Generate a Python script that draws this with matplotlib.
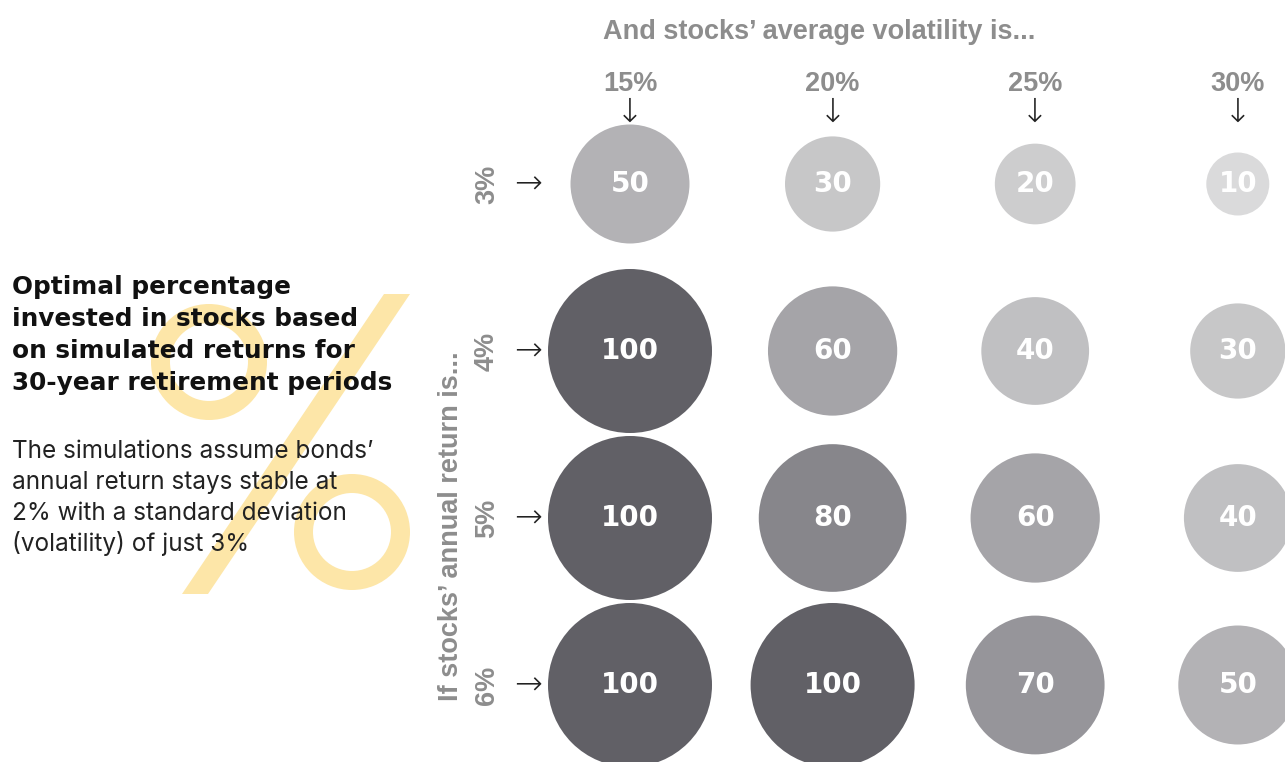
import numpy as np
import matplotlib
matplotlib.use("Agg")
import matplotlib.pyplot as plt
from matplotlib.colors import LinearSegmentedColormap, Normalize
from matplotlib.patches import Annulus, Polygon
from matplotlib.transforms import blended_transform_factory

# ---------------- data ----------------
volatility_labels = ["15%", "20%", "25%", "30%"]
return_labels = ["3%", "4%", "5%", "6%"]
pct_return_3 = [50, 30, 20, 10]
pct_return_4 = [100, 60, 40, 30]
pct_return_5 = [100, 80, 60, 40]
pct_return_6 = [100, 100, 70, 50]

title_lines = ["Optimal percentage", "invested in stocks based",
               "on simulated returns for", "30-year retirement periods"]
subtitle_lines = ["The simulations assume bonds\u2019", "annual return stays stable at",
                  "2% with a standard deviation", "(volatility) of just 3%"]
col_header = "And stocks\u2019 average volatility is..."
row_header = "If stocks\u2019 annual return is..."

# ---------------- layout ----------------
W, H, DPI = 1285, 762, 100
COL0, COLSTEP = 630.0, 202.6     # px
ROW0, ROWSTEP = 184.0, 167.0     # px

fig = plt.figure(figsize=(W / DPI, H / DPI), dpi=DPI)
fig.patch.set_facecolor("white")

def fy(y):  # pixel-from-top -> figure fraction
    return 1 - y / H

def fx(x):
    return x / W

# decoration axes in pixel coordinates (big % sign)
bg = fig.add_axes([0, 0, 1, 1], zorder=0)
bg.set_xlim(0, W)
bg.set_ylim(H, 0)
bg.axis("off")
pc = "#fde6a8"
bg.add_patch(Annulus((209, 362), 58, 19, color=pc, lw=0))
bg.add_patch(Annulus((352, 532), 58, 19, color=pc, lw=0))
bg.add_patch(Polygon([(182, 594), (208, 594), (410, 294), (384, 294)], closed=True,
                     color=pc, lw=0))

# main axes
ax = fig.add_axes([0, 0, 1, 1], zorder=1)
ax.patch.set_alpha(0)
ax.set_xlim(-COL0 / COLSTEP, (W - COL0) / COLSTEP)
ax.set_ylim((H - ROW0) / ROWSTEP, -ROW0 / ROWSTEP)
ax.axis("off")

grid = np.array([pct_return_3, pct_return_4, pct_return_5, pct_return_6])
rows, cols = np.meshgrid(np.arange(len(return_labels)), np.arange(len(volatility_labels)),
                         indexing="ij")
vals = grid.ravel()
xs = cols.ravel()
ys = rows.ravel()

# marker area (pt^2) grows linearly with value
sizes = 736 + 132.1 * vals

cmap = LinearSegmentedColormap.from_list(
    "greys", [(0.0, "#dadadb"), (0.111, "#cdcdce"), (0.333, "#c0c0c2"),
              (0.556, "#a5a4a8"), (0.778, "#87868b"), (1.0, "#616066")])
norm = Normalize(10, 100)
ax.scatter(xs, ys, s=sizes, c=vals, cmap=cmap, norm=norm, edgecolors="none", zorder=2)
for x, y, v in zip(xs, ys, vals):
    ax.text(x, y, f"{v}", ha="center", va="center", color="white",
            fontsize=20, fontweight="bold", family="DejaVu Sans", zorder=3)

hdr_font = dict(family="Liberation Sans", fontweight="bold", color="#8d8d8d")
arrow_font = dict(family="DejaVu Sans", color="#222222")

# column headers
tr_x = blended_transform_factory(ax.transData, fig.transFigure)
for i, lab in enumerate(volatility_labels):
    ax.text(i, fy(84), lab, transform=tr_x, ha="center", va="center", fontsize=19.5, **hdr_font)
    ax.text(i, fy(112), "\u2193", transform=tr_x, ha="center", va="center", fontsize=24,
            fontweight="light", **arrow_font)

fig.text(fx(603), fy(39), col_header, ha="left", va="baseline", fontsize=19.5, **hdr_font)

# row headers
tr_y = blended_transform_factory(fig.transFigure, ax.transData)
for j, lab in enumerate(return_labels):
    ax.text(fx(487), j, lab, transform=tr_y, ha="center", va="center", rotation=90,
            fontsize=19.5, **hdr_font)
    ax.text(fx(528), j, "\u2192", transform=tr_y, ha="center", va="center", fontsize=24,
            fontweight="light", **arrow_font)

fig.text(fx(451), fy(526), row_header, ha="center", va="center", rotation=90,
         fontsize=19.5, **hdr_font)

# title & subtitle
for k, line in enumerate(title_lines):
    fig.text(fx(12), fy(294 + 32 * k), line, ha="left", va="baseline", fontsize=17.8,
             family="DejaVu Sans", fontweight="bold", color="#111111", zorder=5)
for k, line in enumerate(subtitle_lines):
    fig.text(fx(12), fy(458 + 31 * k), line, ha="left", va="baseline", fontsize=17.5,
             family="Inter", fontweight="normal", color="#222222", zorder=5)

fig.savefig("out.png", dpi=DPI, facecolor="white")
